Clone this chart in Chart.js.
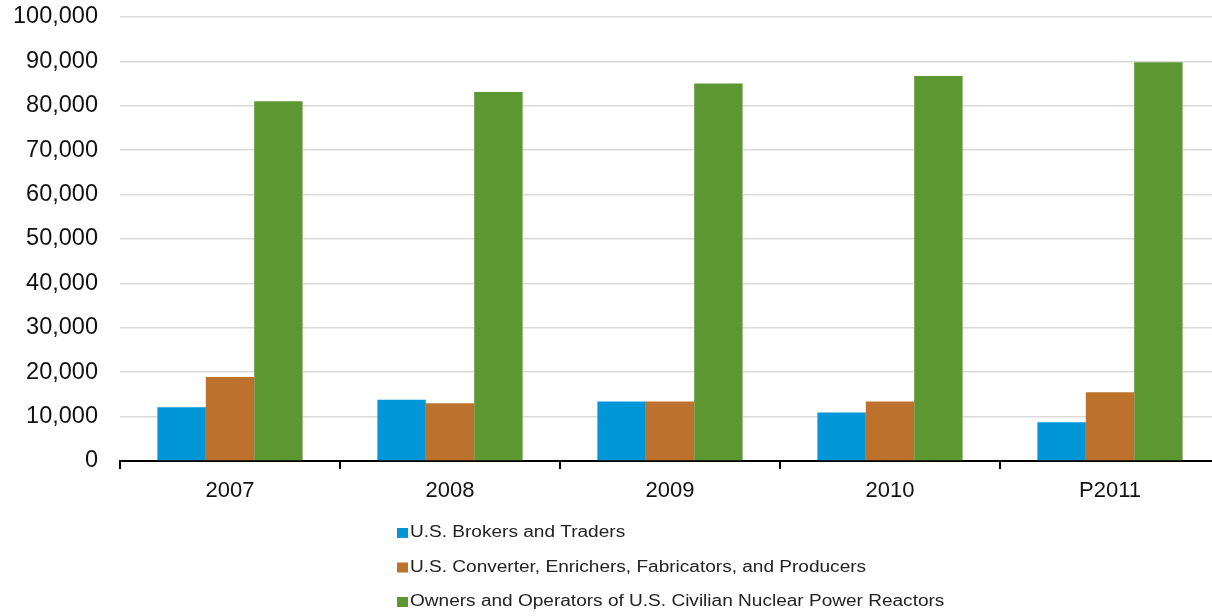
<!DOCTYPE html>
<html>
<head>
<meta charset="utf-8">
<script src="https://cdn.jsdelivr.net/npm/chart.js@4/dist/chart.umd.min.js"></script>
<style>
    html, body { margin: 0; padding: 0; background: #fff; overflow: hidden; }
    /* a little wider than the window: the source plot runs past its right edge */
    #wrap { width: 1220px; height: 616px; }
</style>
</head>
<body>
<div id="wrap"><canvas id="chart"></canvas></div>
<script>
const years = ['2007', '2008', '2009', '2010', 'P2011'];
const brokers = [12100, 13800, 13400, 10900, 8700];
const converters = [18900, 13000, 13400, 13400, 15500];
const owners = [81000, 83100, 85000, 86700, 89800];
const seriesNames = [
    'U.S. Brokers and Traders',
    'U.S. Converter, Enrichers, Fabricators, and Producers',
    'Owners and Operators of U.S. Civilian Nuclear Power Reactors'
];
const seriesColors = ['#0096d8', '#bc722c', '#5d9732'];

const font = "'Liberation Sans', Arial, sans-serif";

// legend stacked in one column under the axis (text a bit wide, like the source)
const listLegend = {
    id: 'listLegend',
    afterDraw(chart) {
        const c = chart.ctx;
        chart.data.datasets.forEach((ds, i) => {
            const y = 533 + i * 34.5;
            c.save();
            c.fillStyle = ds.backgroundColor;
            c.fillRect(397, y - 5, 11, 10);
            c.translate(410, y);
            c.scale(1.19, 1);
            c.font = '16px ' + font;
            c.textBaseline = 'middle';
            c.fillStyle = '#222';
            c.fillText(ds.label, 0, 0);
            c.restore();
        });
    }
};

new Chart(document.getElementById('chart'), {
    type: 'bar',
    data: {
        labels: years,
        datasets: [
            {label: seriesNames[0], data: brokers, backgroundColor: seriesColors[0]},
            {label: seriesNames[1], data: converters, backgroundColor: seriesColors[1]},
            {label: seriesNames[2], data: owners, backgroundColor: seriesColors[2]}
        ]
    },
    options: {
        responsive: true,
        maintainAspectRatio: false,
        animation: false,
        layout: {padding: {top: 17, right: 0, bottom: 0, left: 0}},
        datasets: {
            bar: {categoryPercentage: 0.66, barPercentage: 1.0}
        },
        plugins: {
            legend: {display: false},
            tooltip: {enabled: false}
        },
        scales: {
            x: {
                afterFit: (scale) => { scale.height = 155; },
                grid: {
                    drawOnChartArea: false,
                    drawTicks: true,
                    tickLength: 8,
                    color: '#000',
                    lineWidth: 2,
                    offset: true
                },
                border: {display: true, color: '#000', width: 2},
                ticks: {
                    color: '#111',
                    font: {family: font, size: 22},
                    padding: 9
                }
            },
            y: {
                min: 0,
                max: 100000,
                afterFit: (scale) => { scale.width = 120; },
                // invisible tick marks give the label gap without padding the top
                grid: {color: '#dadada', lineWidth: 1.5, drawTicks: true, tickLength: 22, tickColor: 'rgba(0,0,0,0)'},
                border: {display: false},
                ticks: {
                    stepSize: 10000,
                    padding: 0,
                    color: '#111',
                    font: {family: font, size: 23.5},
                    callback: (v) => v.toLocaleString('en-US')
                }
            }
        }
    },
    plugins: [listLegend]
});
</script>
</body>
</html>
